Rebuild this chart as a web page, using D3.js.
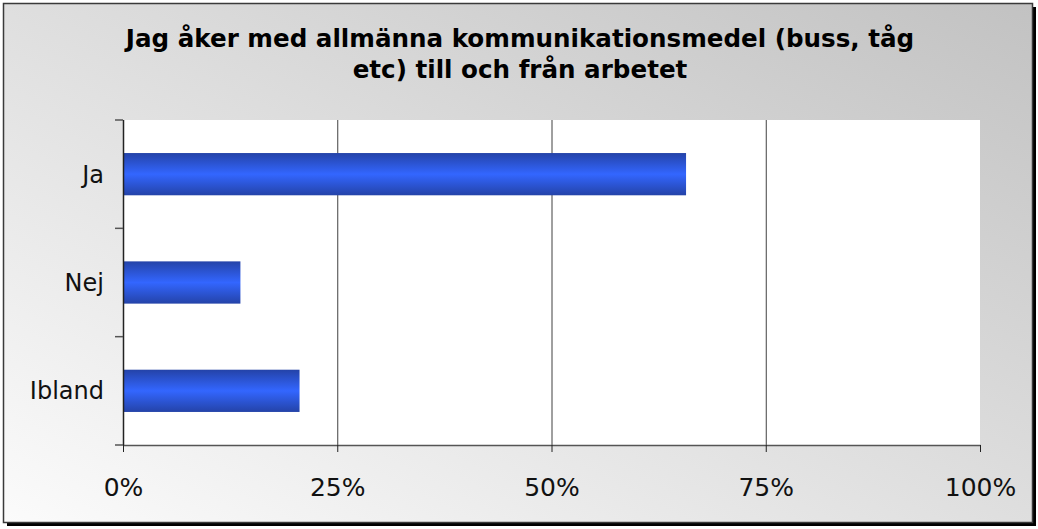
<!DOCTYPE html>
<html>
<head>
<meta charset="utf-8">
<script src="https://cdn.jsdelivr.net/npm/d3@7"></script>
<style>
  body { margin: 0; background: #fff; }
  text { font-family: "DejaVu Sans", Verdana, sans-serif; }
</style>
</head>
<body>
<div id="chart"></div>
<script>
// data
const categories = ["Ja", "Nej", "Ibland"];
const shares = [65.7, 13.7, 20.6];
const xTicks = [0, 25, 50, 75, 100];
const titleLines = ["Jag åker med allmänna kommunikationsmedel (buss, tåg", "etc) till och från arbetet"];

const W = 1038, H = 529;
const margin = {top: 120, right: 58, bottom: 84, left: 123};
const width = W - margin.left - margin.right;
const height = H - margin.top - margin.bottom;

const svg = d3.select("#chart").append("svg")
    .attr("width", W)
    .attr("height", H);

const defs = svg.append("defs");
const bg = defs.append("linearGradient").attr("id", "bg")
    .attr("x1", "0%").attr("y1", "100%").attr("x2", "100%").attr("y2", "0%");
bg.append("stop").attr("offset", "0%").attr("stop-color", "#fbfbfb");
bg.append("stop").attr("offset", "100%").attr("stop-color", "#c2c2c2");

const barGrad = defs.append("linearGradient").attr("id", "bar")
    .attr("x1", "0").attr("y1", "0").attr("x2", "0").attr("y2", "1");
barGrad.append("stop").attr("offset", "0%").attr("stop-color", "#2443a8");
barGrad.append("stop").attr("offset", "50%").attr("stop-color", "#3366ff");
barGrad.append("stop").attr("offset", "100%").attr("stop-color", "#2443a8");

// frame with shadow
svg.append("rect").attr("x", 7).attr("y", 7).attr("width", 1029).attr("height", 519).attr("fill", "#000");
svg.append("rect").attr("x", 3.5).attr("y", 3.5).attr("width", 1029).attr("height", 519)
    .attr("fill", "url(#bg)").attr("stroke", "#3a3a3a").attr("stroke-width", 1.5);

// title
svg.append("text")
    .attr("text-anchor", "middle")
    .attr("font-weight", "bold")
    .attr("font-size", "24.6px")
    .attr("fill", "#000")
    .selectAll("tspan")
    .data(titleLines)
    .enter().append("tspan")
    .attr("x", 520)
    .attr("y", (d, i) => 47 + i * 31)
    .text(d => d);

const g = svg.append("g").attr("transform", "translate(" + margin.left + "," + margin.top + ")");

const x = d3.scaleLinear().domain([0, 100]).range([0, width]);
const y = d3.scaleBand().domain(categories).range([0, height]).paddingInner(0.61).paddingOuter(0.305);

g.append("rect").attr("width", width).attr("height", height).attr("fill", "#fff");

// gridlines
g.selectAll(".grid")
    .data(xTicks.filter(d => d > 0 && d < 100))
    .enter().append("line")
    .attr("x1", d => x(d) + 0.5).attr("x2", d => x(d) + 0.5)
    .attr("y1", 0).attr("y2", height)
    .attr("stroke", "#404040").attr("stroke-width", 1);

// bars
g.selectAll(".bar")
    .data(shares)
    .enter().append("rect")
    .attr("x", 0)
    .attr("y", (d, i) => y(categories[i]))
    .attr("width", d => x(d))
    .attr("height", y.bandwidth())
    .attr("fill", "url(#bar)");

// x axis
const xAxis = g.append("g").attr("transform", "translate(0," + height + ")")
    .call(d3.axisBottom(x).tickValues(xTicks).tickFormat(d => d + "%").tickSize(7).tickSizeOuter(0));
xAxis.select(".domain").attr("stroke", "#555").attr("stroke-width", 1.5);
xAxis.selectAll(".tick line").attr("stroke", "#222");
xAxis.selectAll(".tick text").attr("font-size", "25px").attr("fill", "#111").attr("dy", "1.62em")
    .style("font-family", "'DejaVu Sans', Verdana, sans-serif");

// y axis with ticks at band borders
const yEdges = d3.range(categories.length + 1).map(i => i * height / categories.length);
g.append("line").attr("x1", 0.5).attr("x2", 0.5).attr("y1", 0).attr("y2", height)
    .attr("stroke", "#222").attr("stroke-width", 1.5);
g.selectAll(".ytick")
    .data(yEdges)
    .enter().append("line")
    .attr("x1", -8).attr("x2", 0)
    .attr("y1", d => d).attr("y2", d => d)
    .attr("stroke", "#555").attr("stroke-width", 1.5);
g.selectAll(".ylabel")
    .data(categories)
    .enter().append("text")
    .attr("x", -19)
    .attr("y", d => y(d) + y.bandwidth() / 2)
    .attr("dy", "0.36em")
    .attr("text-anchor", "end")
    .attr("font-size", "24px")
    .attr("fill", "#111")
    .text(d => d);
</script>
</body>
</html>
